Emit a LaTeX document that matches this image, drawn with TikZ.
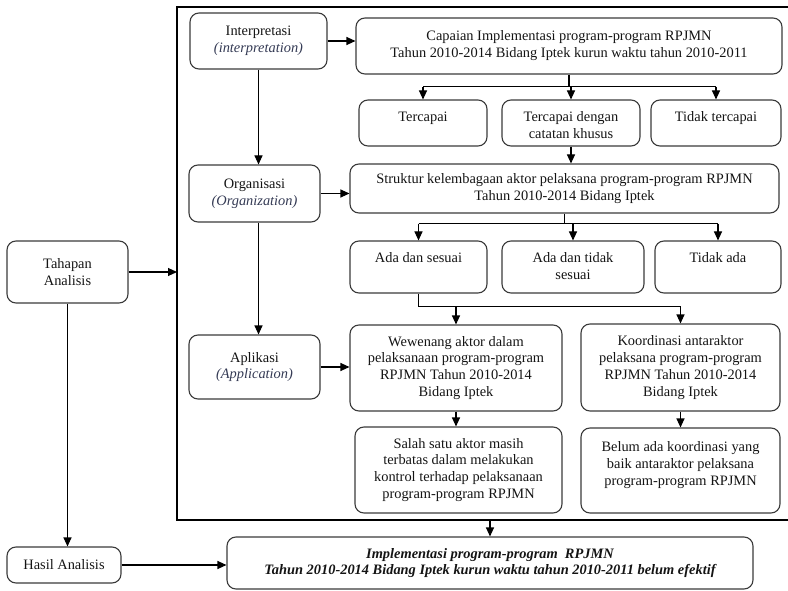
\documentclass[tikz,border=0pt]{standalone}
\usepackage{fontspec}
\setmainfont{Liberation Serif}
\usetikzlibrary{arrows.meta,calc}
\definecolor{boxline}{RGB}{58,58,58}
\definecolor{engtext}{RGB}{52,58,84}
\definecolor{ink}{RGB}{20,20,20}
\begin{document}
\begin{tikzpicture}[x=1pt,y=-1pt,
  txtfont/.style={font=\fontsize{14.4}{16.9}\selectfont, text=ink},
  box/.style={draw=boxline, line width=1.1pt, rounded corners=9pt, align=center,
              inner sep=2pt, txtfont},
  lbl/.style={align=center, inner sep=0pt, txtfont},
  link/.style={line width=1.1pt, draw=black},
  flow/.style={link, -{Triangle[length=9pt,width=8pt]}}]
\useasboundingbox (0,0) rectangle (788,591);
\clip (0,0) rectangle (788,591);

% outer frame around the three analysis stages
\draw[link] (792,7) -- (177,7) -- (177,520) -- (792,520);
\coordinate (frameW) at (177,272);
\coordinate (frameS) at (490,520);

% stage boxes on the left of the frame
\node[box, minimum width=137pt, minimum height=56pt] (interp) at (258.5,41)
  {Interpretasi\\{\color{engtext}\itshape (interpretation)}};
\node[box, minimum width=131pt, minimum height=57pt] (org) at (254.5,193.5)
  {Organisasi\\{\color{engtext}\itshape (Organization)}};
\node[box, minimum width=131pt, minimum height=64pt] (apl) at (254.5,367)
  {Aplikasi\\{\color{engtext}\itshape (Application)}};

% interpretation row
\node[box, minimum width=426pt, minimum height=56pt] (cap) at (569,46)
  {Capaian Implementasi program-program RPJMN\\Tahun 2010-2014 Bidang Iptek kurun waktu tahun 2010-2011};
\node[box, minimum width=128pt, minimum height=46pt] (tc) at (423,123) {};
\node[box, minimum width=138pt, minimum height=46pt] (tdc) at (571,123) {};
\node[box, minimum width=130pt, minimum height=46pt] (tt) at (716,123) {};
\node[lbl, anchor=north] (tcT) at ($(tc.north)+(0,12)$) {Tercapai};
\node[lbl, anchor=north] (tdcT) at ($(tdc.north)+(0,12)$) {Tercapai dengan\\catatan khusus};
\node[lbl, anchor=north] (ttT) at ($(tt.north)+(0,12)$) {Tidak tercapai};

% organisation row
\node[box, minimum width=429pt, minimum height=49pt] (str) at (564.5,188.5)
  {Struktur kelembagaan aktor pelaksana program-program RPJMN\\Tahun 2010-2014 Bidang Iptek};
\node[box, minimum width=137pt, minimum height=52pt] (ads) at (418.5,267) {};
\node[box, minimum width=142pt, minimum height=52pt] (adts) at (573,267) {};
\node[box, minimum width=126pt, minimum height=52pt] (ta) at (718,267) {};
\node[lbl, anchor=north] (adsT) at ($(ads.north)+(0,12)$) {Ada dan sesuai};
\node[lbl, anchor=north] (adtsT) at ($(adts.north)+(0,12)$) {Ada dan tidak\\sesuai};
\node[lbl, anchor=north] (taT) at ($(ta.north)+(0,12)$) {Tidak ada};

% application row
\node[box, minimum width=212pt, minimum height=86pt] (wew) at (456,368)
  {Wewenang aktor dalam\\pelaksanaan program-program\\RPJMN Tahun 2010-2014\\Bidang Iptek};
\node[box, minimum width=199pt, minimum height=87pt] (koo) at (680.5,367.5)
  {Koordinasi antaraktor\\pelaksana program-program\\RPJMN Tahun 2010-2014\\Bidang Iptek};
\node[box, minimum width=207pt, minimum height=86pt] (sal) at (458.5,470)
  {Salah satu aktor masih\\terbatas dalam melakukan\\kontrol terhadap pelaksanaan\\program-program RPJMN};
\node[box, minimum width=199pt, minimum height=85pt] (bel) at (680.5,470.5) {};
\node[lbl, anchor=north] (belT) at ($(bel.north)+(0,14)$)
  {Belum ada koordinasi yang\\baik antaraktor pelaksana\\program-program RPJMN};

% left column and result
\node[box, minimum width=121pt, minimum height=62pt] (tah) at (67.5,272) {Tahapan\\Analisis};
\node[box, minimum width=114pt, minimum height=36pt] (has) at (64,565) {Hasil Analisis};
\node[box, minimum width=526pt, minimum height=52pt] (imp) at (490,563)
  {\bfseries\itshape Implementasi program-program\ \ RPJMN\\
   \bfseries\itshape Tahun 2010-2014 Bidang Iptek kurun waktu tahun 2010-2011 belum efektif};

% connectors: interpretation
\draw[flow] (interp.east) -- (interp.east -| cap.west);
\draw[link] (cap.south) -- ++(0,12) coordinate (capj);
\draw[link] (capj -| tc) -- (capj -| tt);
\draw[flow] (capj -| tc) -- (tc.north);
\draw[flow] (capj -| tdc) -- (tdc.north);
\draw[flow] (capj -| tt) -- (tt.north);
\draw[flow] (tdc.south) -- (tdc.south |- str.north);
\draw[flow] (interp.south) -- (interp.south |- org.north);

% connectors: organisation
\draw[flow] (org.east) -- (org.east -| str.west);
\draw[link] (str.south) -- ++(0,10) coordinate (strj);
\draw[link] (strj -| ads) -- (strj -| ta);
\draw[flow] (strj -| ads) -- (ads.north);
\draw[flow] (strj -| adts) -- (adts.north);
\draw[flow] (strj -| ta) -- (ta.north);
\draw[link] (ads.south) -- ++(0,13) coordinate (adsj);
\draw[link] (adsj) -- (adsj -| koo);
\draw[flow] (adsj -| wew) -- (wew.north);
\draw[flow] (adsj -| koo) -- (koo.north);
\draw[flow] (org.south -| interp.south) -- (apl.north -| interp.south);

% connectors: application
\draw[flow] (apl.east) -- (apl.east -| wew.west);
\draw[flow] (wew.south) -- (wew.south |- sal.north);
\draw[flow] (koo.south) -- (koo.south |- bel.north);

% connectors: left column and result
\draw[flow] (tah.east) -- (tah.east -| frameW);
\draw[flow] (tah.south) -- (tah.south |- has.north);
\draw[flow] (has.east) -- (has.east -| imp.west);
\draw[flow] (frameS) -- (imp.north);
\end{tikzpicture}
\end{document}
